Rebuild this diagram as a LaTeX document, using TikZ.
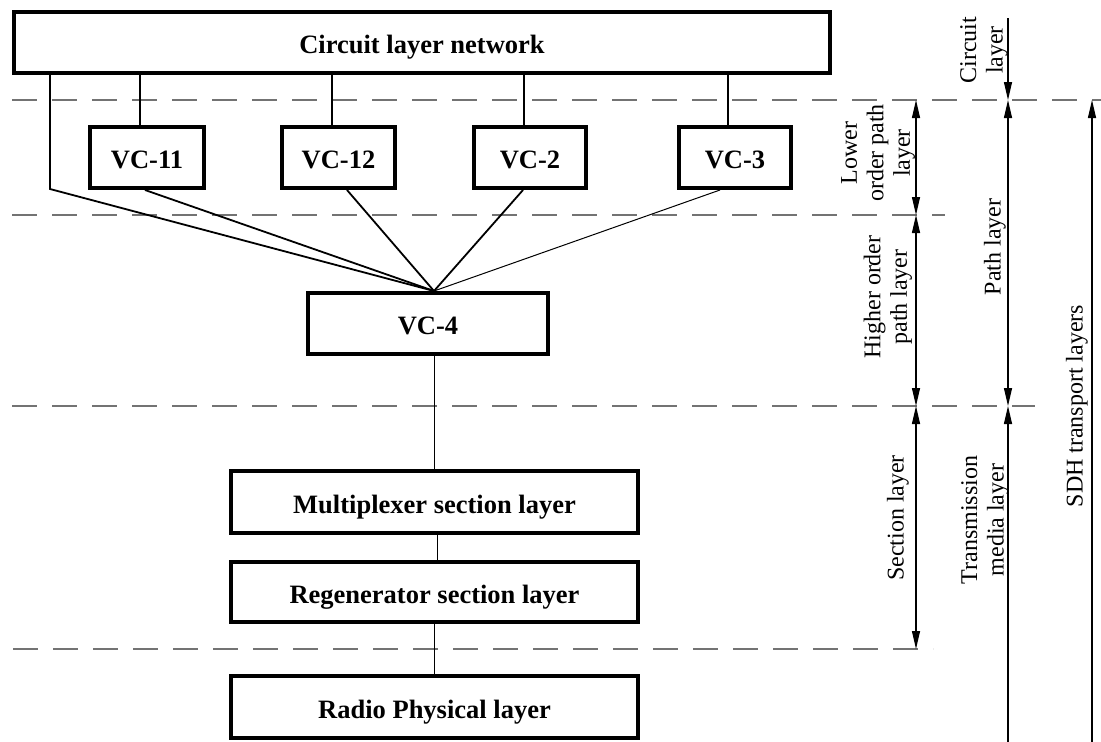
\documentclass[tikz,border=0pt]{standalone}
\usepackage{fontspec}
\setmainfont{Liberation Serif}
\usetikzlibrary{arrows.meta,calc}
\begin{document}
\begin{tikzpicture}[x=1pt,y=-1pt,
  box/.style={draw,line width=4pt,rectangle,inner sep=0pt,fill=white,
    font=\fontsize{26.5}{30}\selectfont\bfseries,text height=22pt,text depth=0pt},
  conn/.style={line width=1.8pt},
  thinconn/.style={line width=1pt},
  dline/.style={draw=black!55,line width=1.4pt,dash pattern=on 25pt off 15pt},
  dimline/.style={line width=1.2pt,{Triangle[length=18pt,width=8pt]}-{Triangle[length=18pt,width=8pt]}},
  dimend/.style={line width=1.2pt,-{Triangle[length=18pt,width=8pt]}},
  lab/.style={rotate=90,align=center,font=\fontsize{24}{26.5}\selectfont}
]
\useasboundingbox (0,0) rectangle (1101,742);
\fill[white] (0,0) rectangle (1101,742);

% dashed layer boundaries
\coordinate (d1a) at (12,100);  \coordinate (d1b) at (1101,100);
\coordinate (d2a) at (12,215);  \coordinate (d2b) at (945,215);
\coordinate (d3a) at (12,406);  \coordinate (d3b) at (1035,406);
\coordinate (d4a) at (12,649);  \coordinate (d4b) at (933,649);
\draw[dline] (d1a) -- (d1b);
\draw[dline] (d2a) -- (d2b);
\draw[dline] (d3a) -- (d3b);
\draw[dline,dash phase=39pt] (d4a) -- (d4b);

% boxes
\node[box,minimum width=816pt,minimum height=61pt] (circ) at (422,42.5) {Circuit layer network};
\node[box,minimum width=114pt,minimum height=61pt] (vc11) at (147,157.5) {VC-11};
\node[box,minimum width=113pt,minimum height=61pt] (vc12) at (338.5,157.5) {VC-12};
\node[box,minimum width=112pt,minimum height=61pt] (vc2) at (530,157.5) {VC-2};
\node[box,minimum width=112pt,minimum height=61pt] (vc3) at (735,157.5) {VC-3};
\node[box,minimum width=240pt,minimum height=61pt] (vc4) at (428,323.5) {VC-4};
\node[box,minimum width=407pt,minimum height=62pt] (mux) at (434.5,502) {Multiplexer section layer};
\node[box,minimum width=407pt,minimum height=60pt] (regen) at (434.5,592) {Regenerator section layer};
\node[box,minimum width=407pt,minimum height=62pt] (radio) at (434.5,707) {Radio Physical layer};

% connectors from circuit layer network
\draw[conn] ([xshift=-7pt]vc11.north) -- ([xshift=-7pt]vc11.north |- circ.south);
\draw[conn] ([xshift=-6.5pt]vc12.north) -- ([xshift=-6.5pt]vc12.north |- circ.south);
\draw[conn] ([xshift=-6pt]vc2.north) -- ([xshift=-6pt]vc2.north |- circ.south);
\draw[conn] ([xshift=-7pt]vc3.north) -- ([xshift=-7pt]vc3.north |- circ.south);

% fan into VC-4
\coordinate (apex) at ($(vc4.north)+(6,0)$);
\coordinate (bend) at (50,189);
\draw[conn] (circ.south -| bend) -- (bend) -- (apex);
\draw[conn] ([xshift=-2pt]vc11.south) -- (apex);
\draw[conn] ([xshift=8.5pt]vc12.south) -- (apex);
\draw[conn] ([xshift=-7pt]vc2.south) -- (apex);
\draw[thinconn] ([xshift=-15pt]vc3.south) -- (apex);

% lower chain
\draw[thinconn] ([xshift=6pt]vc4.south) -- ([xshift=6pt]vc4.south |- mux.north);
\draw[thinconn] ([xshift=2.5pt]mux.south) -- ([xshift=2.5pt]mux.south |- regen.north);
\draw[conn] (regen.south) -- (radio.north);

% dimension arrows, column 1
\coordinate (a1) at (916,100);
\coordinate (a2) at (916,215);
\coordinate (a3) at (916,406);
\coordinate (a4) at (916,649);
\draw[dimline] (a1) -- (a2);
\draw[dimline] (a2) -- (a3);
\draw[dimline] (a3) -- (a4);

% column 2
\coordinate (b0) at (1008,18);
\coordinate (b1) at (1008,100);
\coordinate (b2) at (1008,406);
\coordinate (b3) at (1008,742);
\draw[dimend] (b0) -- (b1);
\draw[dimline] (b1) -- (b2);
\draw[dimend] (b3) -- (b2);

% column 3
\coordinate (c1) at (1092,100);
\coordinate (c2) at (1092,742);
\draw[dimend] (c2) -- (c1);

% labels
\node[lab] (lcirc) at (984,50) {Circuit\\layer};
\node[lab] (llow) at (878,153) {Lower\\order path\\layer};
\node[lab] (lhigh) at (888,297) {Higher order\\path layer};
\node[lab] (lpath) at (995,247) {Path layer};
\node[lab] (lsect) at (898,518) {Section layer};
\node[lab] (ltrans) at (985,520) {Transmission\\media layer};
\node[lab] (lsdh) at (1077,406) {SDH transport layers};
\end{tikzpicture}
\end{document}
